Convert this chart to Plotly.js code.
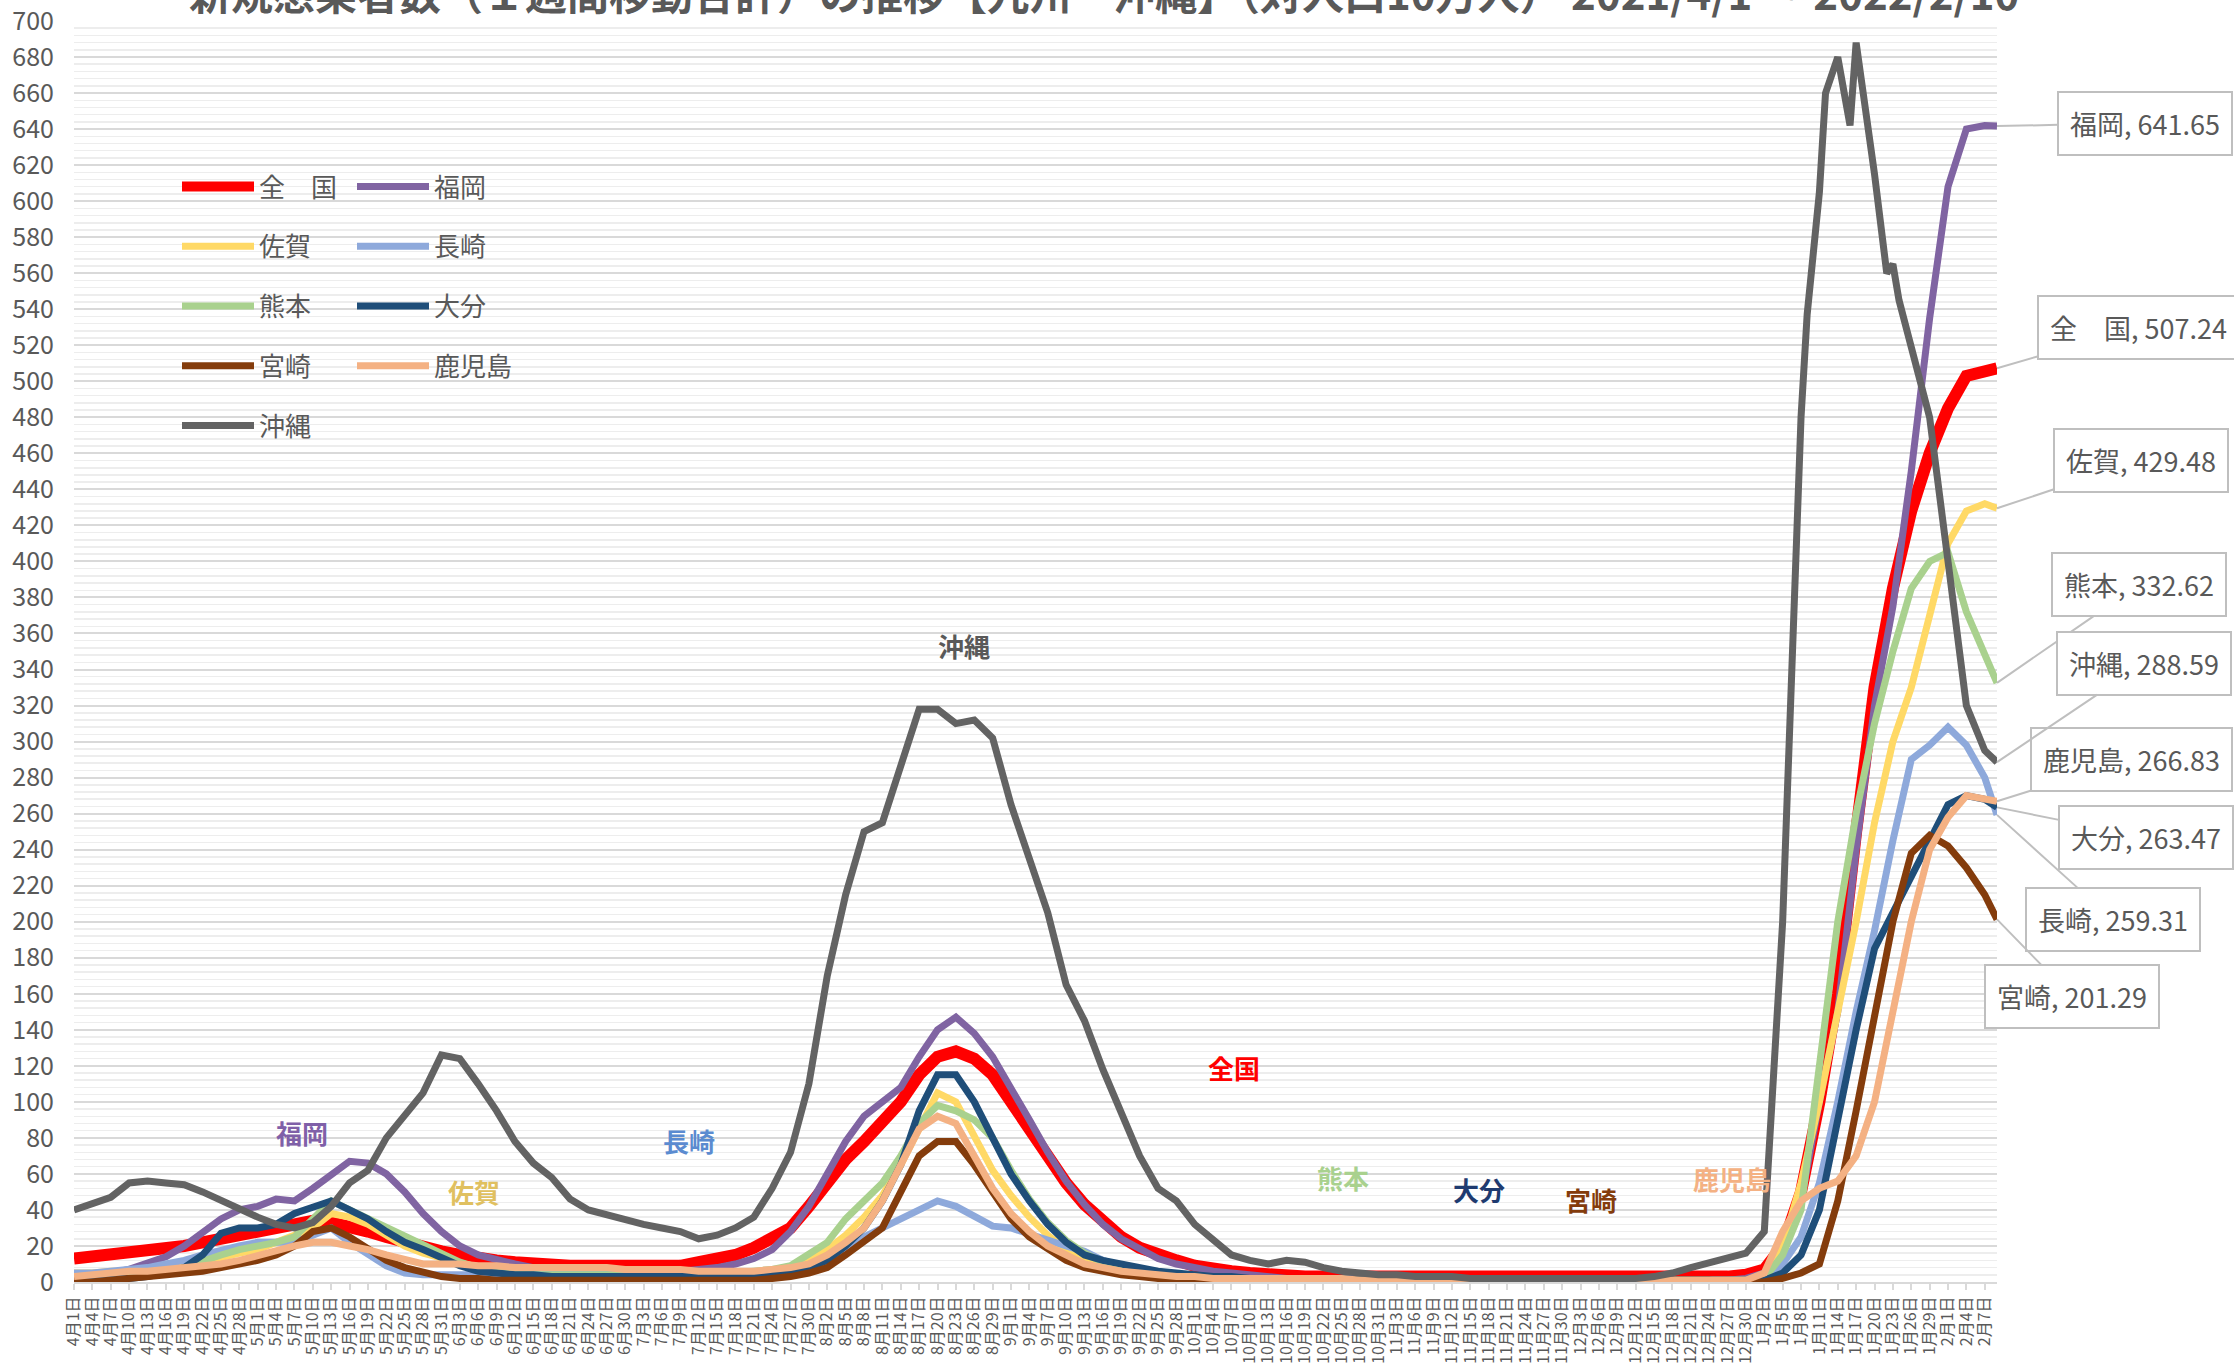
<!DOCTYPE html>
<html><head><meta charset="utf-8">
<script src="https://cdn.plot.ly/plotly-3.0.1.min.js"></script>
<style>html,body{margin:0;padding:0;background:#fff}</style>
</head><body><div id="chart" style="width:2234px;height:1372px"></div>
<script>
// ---- categories: every 3 days from 2021-04-01, plus last day ----
const startDate = '2021-04-01';
const stepDays = 3;
const gridCount = 105;
const lastDate = '2022-02-09';
function addDays(s, n){const d=new Date(s+'T00:00:00Z');d.setUTCDate(d.getUTCDate()+n);return d.toISOString().slice(0,10);}
const dates = [];
for (let i=0;i<gridCount;i++) dates.push(addDays(startDate, i*stepDays));
dates.push(lastDate);

// ---- series values (per 100k, 1-week moving sum) ----
const zenkoku = [13,14,15,16,17,18,20,22,24,26, 28,30,32,34,33,31,28,25,22,19, 17,15,13,12,11,10,9,9,9,9, 9,9,9,9,11,13,15,19,24,30,
 42,55,68,78,88,100,115,125,128,124, 115,100,85,70,55,43,33,25,19,15, 12,9,7,6,5,4,4,3,3,3, 3,3,3,3,3,3,3,2,2,2, 2,2,2,2,2,2,2,2,2,2,
 3,4,7,20,50,100,160,250,330,385, 428,460,485,503,506, 507.24];
const fukuoka = [3,4,5,7,10,14,20,28,35,40, 42,46,45,52,60,67,66,60,50,38, 28,20,15,12,10,8,7,6,6,6, 6,6,6,6,7,8,10,13,18,28,
 42,60,78,92,100,108,125,140,147,138, 125,108,90,72,56,43,32,24,18,13, 10,8,6,5,4,3,2,2,2,2, 2,2,2,2,2,1,1,1,1,1, 1,1,1,1,1,1,1,1,1,1,
 1,2,5,15,45,100,150,240,320,375, 450,535,608,640,642, 641.65];
const saga = [5,5,6,6,7,8,9,11,14,16, 18,22,25,30,38,36,32,26,20,16, 13,10,8,6,5,5,4,4,4,4, 4,4,4,4,4,4,5,5,6,8,
 12,18,26,36,48,65,85,105,100,80, 62,48,36,26,18,13,9,7,5,4, 3,3,2,2,2,2,2,2,2,1, 1,1,1,1,1,1,1,1,1,1, 1,1,1,1,1,1,1,1,1,1,
 1,1,2,20,55,100,150,200,255,300, 330,370,410,428,432, 429.48];
const nagasaki = [5,5,6,7,8,10,12,15,18,20, 22,22,22,26,30,22,15,9,5,4, 4,4,4,4,4,5,5,5,5,5, 5,5,5,5,5,5,5,5,6,7,
 9,12,18,25,30,35,40,45,42,36, 31,30,27,24,20,17,12,9,7,5, 4,3,3,2,2,2,2,2,2,2, 1,1,1,1,1,1,1,1,1,1, 1,1,1,1,1,1,1,1,1,1,
 1,1,2,10,25,55,100,150,195,245, 290,298,308,298,280, 259.31];
const kumamoto = [2,2,3,4,5,6,8,12,15,18, 20,22,25,35,45,40,35,30,25,20, 15,11,8,6,5,4,4,4,4,4, 4,4,4,4,4,4,5,6,7,9,
 15,22,35,45,55,70,88,98,95,90, 80,62,46,33,23,16,11,8,6,5, 4,3,3,2,2,2,2,2,2,2, 1,1,1,1,1,1,1,1,1,1, 1,1,1,1,1,1,1,1,1,1,
 1,1,2,15,40,120,200,260,310,350, 385,400,405,372,348, 332.62];
const oita = [1,1,2,2,3,5,8,15,27,30, 30,32,38,42,45,40,35,28,22,18, 13,9,6,5,4,4,3,3,3,3, 3,3,3,3,3,3,3,4,5,6,
 8,12,20,30,45,65,95,115,115,100, 80,60,45,32,22,15,12,10,8,6, 5,4,3,3,2,2,2,2,2,2, 1,1,1,1,1,1,1,1,1,1, 1,1,1,1,1,1,1,1,1,1,
 1,1,1,5,15,40,90,140,185,205, 225,245,265,270,268, 263.47];
const miyazaki = [0,0,1,2,3,4,5,6,8,10, 12,15,20,28,30,25,18,12,8,5, 3,2,2,1,1,1,1,1,1,1, 1,1,1,1,1,1,1,1,2,3,
 5,8,15,22,30,50,70,78,78,65, 50,35,25,18,12,8,6,4,3,2, 2,1,1,1,1,1,1,1,1,1, 1,1,1,1,1,1,1,1,1,1, 1,1,1,1,1,1,1,1,1,1,
 0,0,0,2,5,10,45,95,150,200, 238,248,242,230,215, 201.29];
const kagoshima = [3,4,5,6,6,7,8,9,10,12, 15,18,20,22,22,20,18,15,12,10, 10,10,9,9,8,8,8,8,8,8, 7,7,7,7,6,6,6,6,7,8,
 10,15,22,30,45,65,85,92,88,70, 52,38,28,20,15,10,8,6,5,4, 3,3,2,2,2,2,2,2,2,2, 1,1,1,1,1,1,1,1,1,1, 1,1,1,1,1,1,1,1,1,1,
 1,1,5,28,45,52,56,70,100,150, 200,240,258,270,268, 266.83];
const okinawa = [40,44,47,55,56,55,54,50,45,40, 36,32,30,33,42,55,62,80,92,105, 126,124,110,95,78,66,58,46,40,37, 34,32,30,28,24,26,30,36,52,72,
 110,170,215,250,255,285,318,318,310,312, 302,265,235,205,165,145,118,95,70,52, 45,32,24,15,12,10,12,11,8,6, 5,4,4,3,3,3,2,2,2,2, 2,2,2,2,2,2,3,5,8,11,
 13,16,28,200,480,605,680,688,615,565, 520,480,400,320,295, 288.59];
// extra daily readings for 沖縄 around its January peaks
const okinawaExtraDates = ['2022-01-09','2022-01-12','2022-01-16','2022-01-19','2022-01-22','2022-01-24'];
const okinawaExtraValues = [537,660,642,640,560,545];

const seriesNames = ['全　国','福岡','佐賀','長崎','熊本','大分','宮崎','鹿児島','沖縄'];
const seriesData = [zenkoku,fukuoka,saga,nagasaki,kumamoto,oita,miyazaki,kagoshima,okinawa];
const seriesColors = ['#FF0000','#8064A2','#FFD966','#8EA9DB','#A9D18E','#1F4E79','#843C0C','#F4B183','#636363'];
const seriesWidths = [12,7,7,7,7,7,7,7,7];
// left column: 全国, 佐賀, 熊本, 宮崎, 沖縄 ; right: 福岡, 長崎, 大分, 鹿児島
const legendMap = ['legend','legend2','legend','legend2','legend','legend2','legend','legend2','legend'];

// in-chart labels
const labelNames = ['沖縄','全国','福岡','佐賀','長崎','熊本','大分','宮崎','鹿児島'];
const labelColors = ['#595959','#FF0000','#7F60A8','#E0C060','#5B8BD0','#A9D18E','#1F3B70','#843C0C','#F4B183'];
const labelPx = [[964,645],[1234,1067],[302,1132],[474,1191],[689,1140],[1343,1177],[1479,1189],[1591,1199],[1732,1178]];

// end-value callout offsets (pixels)
const calloutOffsets = [[141,-41],[148,-3],[144,-48],[116,105],[142,-98],[149,30],[75,77],[134,-42],[147,-99]];

const L=74, R=1997, T=21, B=1282;
const W=2234, H=1372;
const px2x = p => (p-L)/(R-L);
const px2y = p => (B-p)/(B-T);

function mergedSeries(xs, ys, ex, ey){
  const pts = xs.map((x,i)=>[x, ys[i]]).concat(ex.map((x,i)=>[x, ey[i]]));
  pts.sort((a,b)=> a[0] < b[0] ? -1 : a[0] > b[0] ? 1 : 0);
  return {x: pts.map(p=>p[0]), y: pts.map(p=>p[1])};
}

const traces = seriesNames.map((n,i)=>{
  let xy = {x:dates, y:seriesData[i]};
  if (n === '沖縄') xy = mergedSeries(dates, okinawa, okinawaExtraDates, okinawaExtraValues);
  return {
    type:'scatter', mode:'lines', name:n, x:xy.x, y:xy.y,
    line:{color:seriesColors[i], width:seriesWidths[i], shape:'linear'},
    legend: legendMap[i], legendgroup:'g'+i, hoverinfo:'skip'
  };
});

const narrow = '"Liberation Sans Narrow", "Arial Narrow", "Noto Sans CJK JP"';
const annotations = [];
annotations.push({
  text:'新規感染者数（１週間移動合計）の推移【九州・沖縄】（対人口10万人） 2021/4/1 ～ 2022/2/10',
  xref:'paper', yref:'paper', x:px2x(1104), y:px2y(-9), xanchor:'center', yanchor:'middle',
  showarrow:false, font:{family:'Noto Sans CJK JP', size:42, color:'#595959', weight:700}
});
labelNames.forEach((t,i)=>annotations.push({
  text:t, xref:'paper', yref:'paper', x:px2x(labelPx[i][0]), y:px2y(labelPx[i][1]),
  xanchor:'center', yanchor:'middle', showarrow:false,
  font:{family:'Noto Sans CJK JP', size:26, color:labelColors[i], weight:700}
}));
seriesNames.forEach((n,i)=>{
  const d = seriesData[i];
  const v = d[d.length-1];
  annotations.push({
    text: n+', '+v.toFixed(2), x:dates[dates.length-1], y:v, xref:'x', yref:'y',
    showarrow:true, arrowhead:0, arrowwidth:2, arrowcolor:'#BFBFBF',
    ax:calloutOffsets[i][0], ay:calloutOffsets[i][1], axref:'pixel', ayref:'pixel',
    bordercolor:'#BFBFBF', borderwidth:2, borderpad:11, bgcolor:'#FFFFFF',
    font:{family:narrow, size:27, color:'#595959'}
  });
});

const legendCommon = {orientation:'v', bgcolor:'rgba(0,0,0,0)', font:{family:'Noto Sans CJK JP', size:26, color:'#595959'},
  tracegroupgap:23, itemwidth:72, yanchor:'top', xanchor:'left', traceorder:'grouped'};

const layout = {
  width:W, height:H, paper_bgcolor:'#fff', plot_bgcolor:'#fff',
  margin:{l:L, r:W-R, t:T, b:H-B, pad:0},
  showlegend:true,
  legend: Object.assign({x:px2x(177), y:px2y(163)}, legendCommon),
  legend2: Object.assign({x:px2x(352), y:px2y(163)}, legendCommon),
  xaxis:{type:'date', range:[startDate, lastDate], tick0:startDate, dtick:stepDays*86400000,
    tickformat:'%-m月%-d日', tickangle:-90, showgrid:false, showline:true, linecolor:'#D9D9D9', linewidth:2,
    ticks:'outside', ticklen:6, tickcolor:'#D9D9D9', tickwidth:2,
    tickfont:{family:narrow, size:16, color:'#595959'}, zeroline:false},
  yaxis:{range:[0,700], dtick:20, tick0:0, showgrid:true, gridcolor:'#D9D9D9', gridwidth:2,
    minor:{dtick:4, showgrid:true, gridcolor:'#EDEDED', gridwidth:1.5},
    zeroline:false, showline:false, ticks:'', ticklabelstandoff:19,
    tickfont:{family:narrow, size:25, color:'#595959'}},
  annotations: annotations
};
Plotly.newPlot('chart', traces, layout, {staticPlot:true});
</script></body></html>
